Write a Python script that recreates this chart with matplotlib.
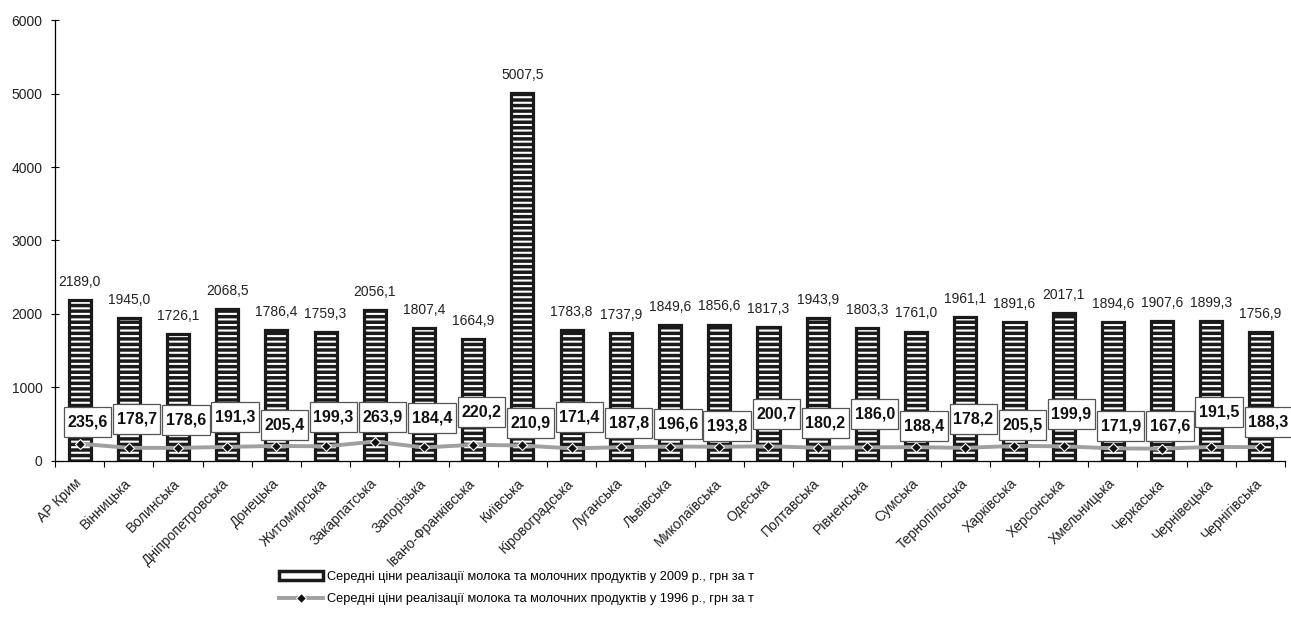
import matplotlib
matplotlib.use('Agg')
import matplotlib.pyplot as plt
from matplotlib.patches import Patch
from matplotlib.lines import Line2D
from matplotlib.path import Path
from matplotlib.transforms import ScaledTranslation
import numpy as np

plt.rcParams['font.family'] = ['Liberation Sans', 'DejaVu Sans']
plt.rcParams['hatch.linewidth'] = 1.5

regions = [
    "АР Крим", "Вінницька", "Волинська", "Дніпропетровська", "Донецька",
    "Житомирська", "Закарпатська", "Запорізька", "Івано-Франківська",
    "Київська", "Кіровоградська", "Луганська", "Львівська", "Миколаївська",
    "Одеська", "Полтавська", "Рівненська", "Сумська", "Тернопільська",
    "Харківська", "Херсонська", "Хмельницька", "Черкаська", "Чернівецька",
    "Чернігівська",
]

price_2009 = [2189.0, 1945.0, 1726.1, 2068.5, 1786.4, 1759.3, 2056.1, 1807.4,
              1664.9, 5007.5, 1783.8, 1737.9, 1849.6, 1856.6, 1817.3, 1943.9,
              1803.3, 1761.0, 1961.1, 1891.6, 2017.1, 1894.6, 1907.6, 1899.3,
              1756.9]

price_1996 = [235.6, 178.7, 178.6, 191.3, 205.4, 199.3, 263.9, 184.4, 220.2,
              210.9, 171.4, 187.8, 196.6, 193.8, 200.7, 180.2, 186.0, 188.4,
              178.2, 205.5, 199.9, 171.9, 167.6, 191.5, 188.3]

# heights (data units) where the 1996 label boxes sit
box_y = [531, 571, 558, 599, 490, 599, 599, 585, 667, 517, 599, 517, 503,
         476, 639, 517, 639, 476, 571, 490, 639, 476, 476, 667, 531]

legend_labels = [
    "Середні ціни реалізації молока та молочних продуктів у 2009 р., грн за т",
    "Середні ціни реалізації молока та молочних продуктів у 1996 р., грн за т",
]


def fmt(v):
    return f"{v:.1f}".replace('.', ',')


def tall_box(x0, y0, width, height, mutation_size):
    # label box: a little padding at the sides, more above and below
    px = 0.22 * mutation_size
    py = 0.45 * mutation_size
    x0, x1 = x0 - px, x0 + width + px
    y0, y1 = y0 - py, y0 + height + py
    return Path([(x0, y0), (x1, y0), (x1, y1), (x0, y1), (x0, y0)], closed=True)


fig = plt.figure(figsize=(12.91, 6.37), dpi=100)
ax = fig.add_axes([0.0426, 0.2763, 0.9528, 0.6923])

x = np.arange(len(regions))
width = 0.45

# striped fill, then thick outline on top
ax.bar(x, price_2009, width, facecolor='#1a1a1a', edgecolor='white',
       hatch='---', linewidth=0, zorder=2)
ax.bar(x, price_2009, width, fill=False, edgecolor='#1a1a1a',
       linewidth=2.3, zorder=3)

for xi, v in zip(x, price_2009):
    ax.annotate(fmt(v), (xi, v), xytext=(0, 8), textcoords='offset points',
                ha='center', va='bottom', fontsize=10, color='#222222')

ax.plot(x, price_1996, color='#a0a0a0', linewidth=2.8, zorder=4,
        marker='D', markersize=5.5, markerfacecolor='#111111',
        markeredgecolor='white', markeredgewidth=0.8)

for xi, v, by in zip(x, price_1996, box_y):
    ax.text(xi + 0.16, by, fmt(v), ha='center', va='center', fontsize=11.5,
            fontweight='bold', color='#111111', zorder=6,
            bbox=dict(boxstyle=tall_box, facecolor='white',
                      edgecolor='#555555', linewidth=0.9))

ax.set_xlim(-0.5, len(regions) - 0.5)
ax.set_ylim(0, 6000)
ax.set_yticks(range(0, 6001, 1000))
ax.tick_params(axis='y', direction='inout', length=6, width=0.8,
               labelsize=10, labelcolor='#222222', pad=6)

ax.set_xticks(x)
ax.set_xticklabels(regions, rotation=45, ha='right', va='top',
                   rotation_mode='anchor', fontsize=10, color='#222222')
ax.tick_params(axis='x', length=0, pad=11)
shift = ScaledTranslation(-0.05, 0, fig.dpi_scale_trans)
for lab in ax.get_xticklabels():
    lab.set_transform(lab.get_transform() + shift)
ax.set_xticks(np.arange(-0.5, len(regions)), minor=True)
ax.tick_params(axis='x', which='minor', direction='out', length=4, width=0.8)

for side in ('top', 'right'):
    ax.spines[side].set_visible(False)
for side in ('left', 'bottom'):
    ax.spines[side].set_linewidth(0.9)

handles = [
    Patch(facecolor='white', edgecolor='#1a1a1a', linewidth=2.5),
    Line2D([0], [0], color='#a0a0a0', linewidth=2.8, marker='D',
           markersize=5, markerfacecolor='#111111', markeredgecolor='white',
           markeredgewidth=0.8),
]
fig.legend(handles, legend_labels, loc='center', bbox_to_anchor=(0.40, 0.077),
           frameon=False, fontsize=9.2, handlelength=3.4, handleheight=0.65,
           handletextpad=0.3, labelspacing=0.8)

fig.savefig('out.png', dpi=100)
